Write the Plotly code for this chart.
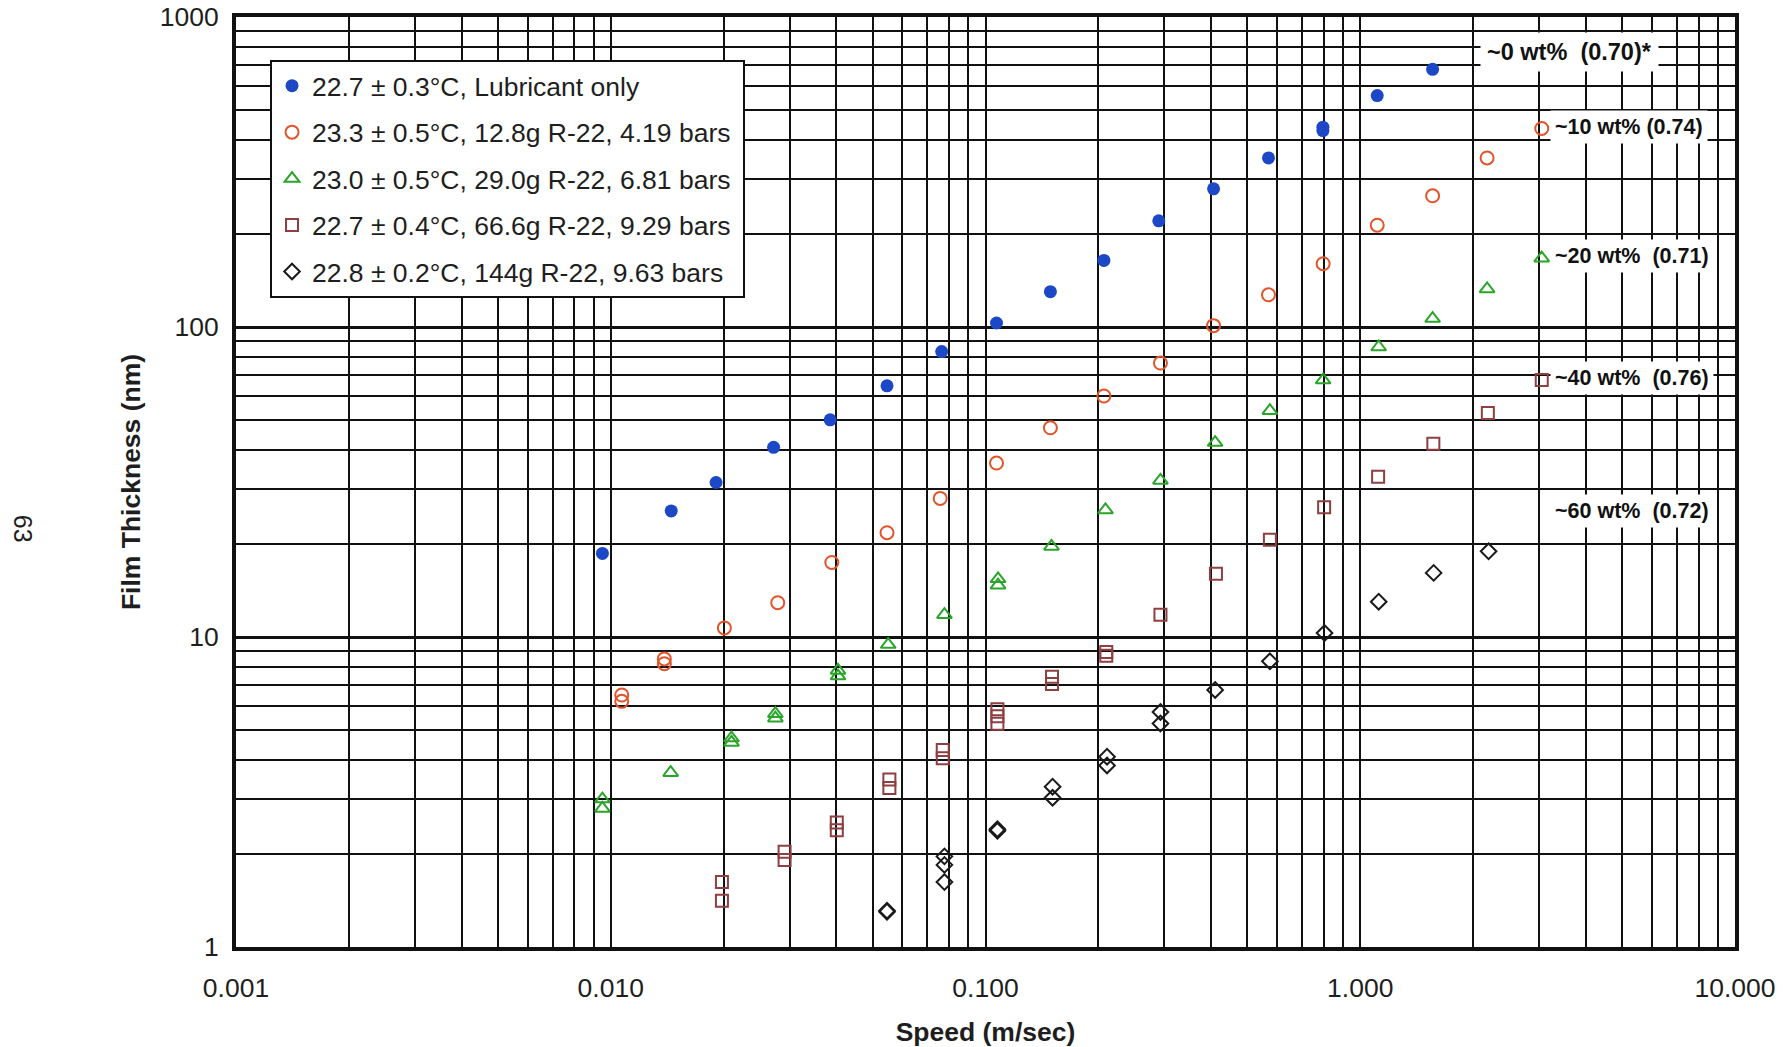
import numpy as np
import plotly.graph_objects as go

# ---- Film thickness (nm) vs. entrainment speed (m/sec) ----
lub_speed = [0.0095, 0.0145, 0.0191, 0.0272, 0.0385, 0.0546, 0.0764, 0.107, 0.149, 0.207,
             0.290, 0.406, 0.569, 0.795, 0.795, 1.11, 1.56]
lub_film = [18.6, 25.5, 31.5, 40.9, 50.2, 64.6, 83.3, 103, 130, 164,
            220, 279, 351, 441, 430, 558, 678]

r10_speed = [0.0107, 0.0107, 0.0139, 0.0139, 0.0201, 0.0279, 0.0389, 0.0546, 0.0757, 0.107,
             0.149, 0.207, 0.293, 0.406, 0.569, 0.796, 1.11, 1.56, 2.18, 3.05]
r10_film = [6.5, 6.2, 8.5, 8.2, 10.7, 12.9, 17.4, 21.7, 28.0, 36.4,
            47.3, 59.9, 76.5, 101, 127, 160, 213, 265, 351, 437]

r20_speed = [0.0095, 0.0095, 0.01445, 0.0210, 0.0210, 0.0275, 0.0275, 0.0404, 0.0404, 0.055,
             0.0777, 0.108, 0.108, 0.150, 0.209, 0.293, 0.410, 0.574, 0.796, 1.12,
             1.56, 2.18, 3.05]
r20_film = [3.0, 2.8, 3.65, 4.72, 4.57, 5.66, 5.47, 7.80, 7.48, 9.45,
            11.8, 15.4, 14.7, 19.6, 25.7, 32.0, 42.4, 53.7, 67.4, 86.2,
            106.5, 132.7, 166.7]

r40_speed = [0.0198, 0.0198, 0.0291, 0.0291, 0.0401, 0.0401, 0.0554, 0.0554, 0.0769, 0.0769,
             0.1076, 0.1076, 0.1076, 0.1505, 0.1505, 0.210, 0.210, 0.293, 0.412, 0.574,
             0.801, 1.116, 1.567, 2.19, 3.05]
r40_film = [1.62, 1.41, 2.03, 1.91, 2.52, 2.38, 3.47, 3.26, 4.32, 4.06,
            5.85, 5.55, 5.25, 7.45, 7.05, 8.95, 8.70, 11.8, 16.0, 20.6,
            26.2, 32.9, 42.0, 52.8, 67.4]

r60_speed = [0.0546, 0.0546, 0.0777, 0.0777, 0.0777, 0.1076, 0.1076, 0.151, 0.151, 0.211,
             0.211, 0.293, 0.293, 0.410, 0.574, 0.803, 1.12, 1.57, 2.20]
r60_film = [1.30, 1.31, 1.96, 1.84, 1.62, 2.37, 2.40, 3.29, 3.03, 4.11,
            3.85, 5.73, 5.26, 6.75, 8.35, 10.3, 13.0, 16.1, 18.9]

series_names = [
    "22.7 ± 0.3°C, Lubricant only",
    "23.3 ± 0.5°C, 12.8g R-22, 4.19 bars",
    "23.0 ± 0.5°C, 29.0g R-22, 6.81 bars",
    "22.7 ± 0.4°C, 66.6g R-22, 9.29 bars",
    "22.8 ± 0.2°C, 144g R-22, 9.63 bars",
]
series_x = [lub_speed, r10_speed, r20_speed, r40_speed, r60_speed]
series_y = [lub_film, r10_film, r20_film, r40_film, r60_film]
series_symbols = ["circle", "circle-open", "triangle-up-open", "square-open", "diamond-open"]
series_colors = ["#1c48c8", "#e2542a", "#2aa52a", "#8e3f42", "#1a1a1a"]
series_sizes = [13, 13, 13, 12, 12]

# concentration labels on the right-hand side and the thickness they sit at
conc_labels = ["~0 wt%\u00a0 (0.70)*", "~10 wt% (0.74)", "~20 wt%\u00a0 (0.71)",
               "~40 wt%\u00a0 (0.76)", "~60 wt%\u00a0 (0.72)"]
conc_label_film = [771, 441, 169, 68.4, 25.5]

x_ticks = [0.001, 0.01, 0.1, 1, 10]
x_tick_text = ["0.001", "0.010", "0.100", "1.000", "10.000"]
y_ticks = [1, 10, 100, 1000]
y_tick_text = ["1", "10", "100", "1000"]

FONT = "Arial, 'Liberation Sans', Helvetica, sans-serif"
INK = "#1e1e1e"

fig = go.Figure()
for name, xs, ys, sym, col, sz in zip(series_names, series_x, series_y,
                                      series_symbols, series_colors, series_sizes):
    filled = not sym.endswith("open")
    fig.add_trace(go.Scatter(
        x=xs, y=ys, mode="markers", name=name + "\u00a0", legendgroup=name,
        marker=dict(symbol=sym, size=sz, color=col,
                    line=dict(color=col, width=0 if filled else 2)),
    ))

minor_x = [m * 10.0 ** e for e in range(-3, 1) for m in range(2, 10)]
minor_y = [m * 10.0 ** e for e in range(0, 3) for m in range(2, 10)]

fig.update_xaxes(
    type="log", range=[-3, 1], automargin=False,
    tickvals=x_ticks, ticktext=x_tick_text, ticks="", ticklabelstandoff=14,
    tickfont=dict(family=FONT, size=26.5, color=INK),
    showgrid=True, gridcolor="#111", gridwidth=2.2,
    minor=dict(tickvals=minor_x, showgrid=True, gridcolor="#111", gridwidth=1.8, ticks=""),
    showline=True, linecolor="#111", linewidth=4, mirror=True,
    zeroline=False,
    title=dict(text="<b>Speed (m/sec)</b>", standoff=22,
               font=dict(family=FONT, size=26.5, color=INK)),
)
fig.update_yaxes(
    type="log", range=[0, 3], automargin=False,
    tickvals=y_ticks, ticktext=y_tick_text, ticks="", ticklabelstandoff=8,
    tickfont=dict(family=FONT, size=26.5, color=INK),
    showgrid=True, gridcolor="#111", gridwidth=3,
    minor=dict(tickvals=minor_y, showgrid=True, gridcolor="#111", gridwidth=2.4, ticks=""),
    showline=True, linecolor="#111", linewidth=4, mirror=True,
    zeroline=False,
    title=dict(text="<b>Film Thickness (nm)</b>", standoff=12,
               font=dict(family=FONT, size=26.5, color=INK)),
)

for i, (txt, val) in enumerate(zip(conc_labels, conc_label_film)):
    first = i == 0
    fig.add_annotation(
        text="<b>" + txt + "</b>", xref="paper", yref="y",
        x=0.8299 if first else 0.8766, y=np.log10(val),
        xanchor="left", yanchor="middle", showarrow=False,
        font=dict(family=FONT, size=23.5 if first else 21.5, color="#111"),
        bgcolor="white", borderpad=6 if first else 4,
    )

# page number printed in the margin
fig.add_annotation(
    text="63", xref="paper", yref="paper", x=-0.142, y=0.4495,
    xanchor="center", yanchor="middle",
    textangle=90, showarrow=False,
    font=dict(family=FONT, size=25, color=INK),
)

fig.update_layout(
    width=1785, height=1047,
    margin=dict(l=236, r=50, t=17, b=100, autoexpand=False),
    paper_bgcolor="white", plot_bgcolor="white",
    font=dict(family=FONT, color=INK),
    showlegend=True,
    legend=dict(
        x=0.0227, y=0.9538, xanchor="left", yanchor="top",
        bgcolor="white", bordercolor="#111", borderwidth=2,
        font=dict(family=FONT, size=26.5, color=INK),
        tracegroupgap=9, itemsizing="trace",
    ),
)

fig.write_html("out.html")
